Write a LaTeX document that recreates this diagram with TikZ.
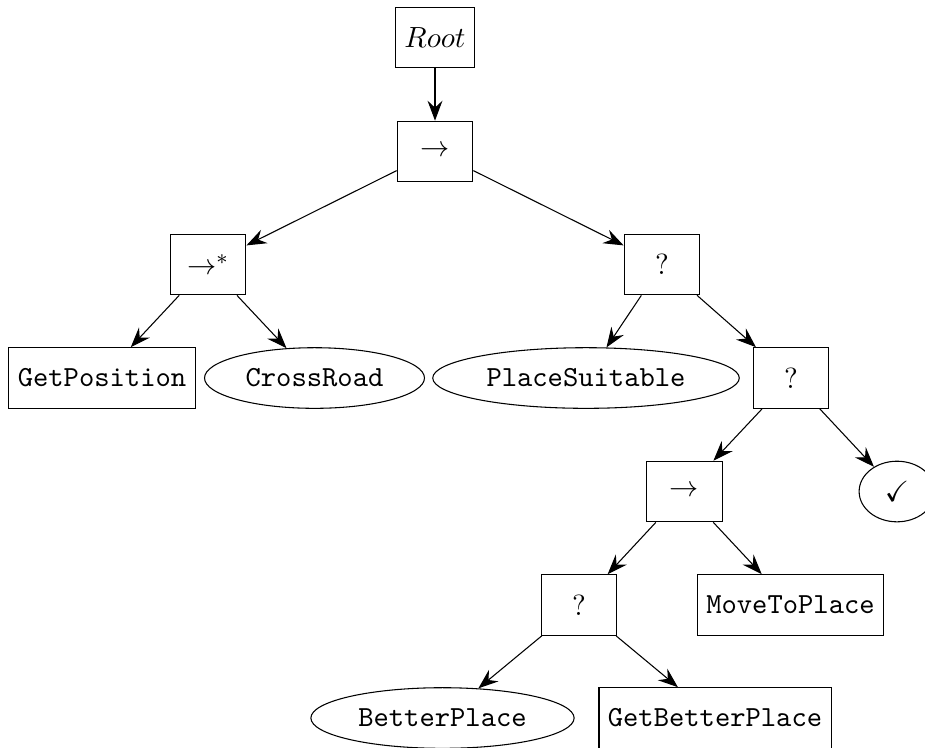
\documentclass[tikz,border=0pt]{standalone}
\usepackage{amssymb}
\usetikzlibrary{shapes.geometric,arrows.meta}

\tikzset{
  txt/.style={font=\fontsize{10.95}{13.6}\selectfont},
  ctrl/.style={txt, draw, rectangle, minimum width=1cm, minimum height=0.8cm},
  act/.style={ctrl, font=\fontsize{10.95}{13.6}\selectfont\ttfamily},
  cond/.style={txt, draw, ellipse, minimum width=1cm, minimum height=0.8cm,
               font=\fontsize{10.95}{13.6}\selectfont\ttfamily},
  okleaf/.style={txt, draw, ellipse, minimum width=1cm, minimum height=0.8cm},
  link/.style={-{Stealth[length=7.5pt,width=5.6pt,inset=2.6pt]}}
}

\begin{document}
\begin{tikzpicture}[x=0.013193cm, y=-0.013193cm]
  \useasboundingbox (0,0) rectangle (925,747);

  % behaviour tree nodes
  \node[ctrl] (root)  at (435,37.5)  {$Root$};
  \node[ctrl] (seqA)  at (435,151.5) {$\rightarrow$};
  \node[ctrl] (seqM)  at (208,264.5) {$\rightarrow^{*}$};
  \node[ctrl] (selA)  at (662,264.5) {?};
  \node[act]  (getpos) at (102,378)  {GetPosition};
  \node[cond] (cross)  at (314.5,378) {CrossRoad};
  \node[cond] (suit)   at (586,378)   {PlaceSuitable};
  \node[ctrl] (selB)  at (791,378)   {?};
  \node[ctrl] (seqB)  at (684.5,491.5) {$\rightarrow$};
  \node[okleaf] (ok)  at (897,491.5) {$\checkmark$};
  \node[ctrl] (selC)  at (579,605)   {?};
  \node[act]  (move)  at (790.5,605) {MoveToPlace};
  \node[cond] (better) at (442.5,718) {BetterPlace};
  \node[act]  (getbetter) at (715,718) {GetBetterPlace};

  % parent -> child connectors
  \draw[link] (root) -- (seqA);
  \draw[link] (seqA) -- (seqM);
  \draw[link] (seqA) -- (selA);
  \draw[link] (seqM) -- (getpos);
  \draw[link] (seqM) -- (cross);
  \draw[link] (selA) -- (suit);
  \draw[link] (selA) -- (selB);
  \draw[link] (selB) -- (seqB);
  \draw[link] (selB) -- (ok);
  \draw[link] (seqB) -- (selC);
  \draw[link] (seqB) -- (move);
  \draw[link] (selC) -- (better);
  \draw[link] (selC) -- (getbetter);
\end{tikzpicture}
\end{document}
